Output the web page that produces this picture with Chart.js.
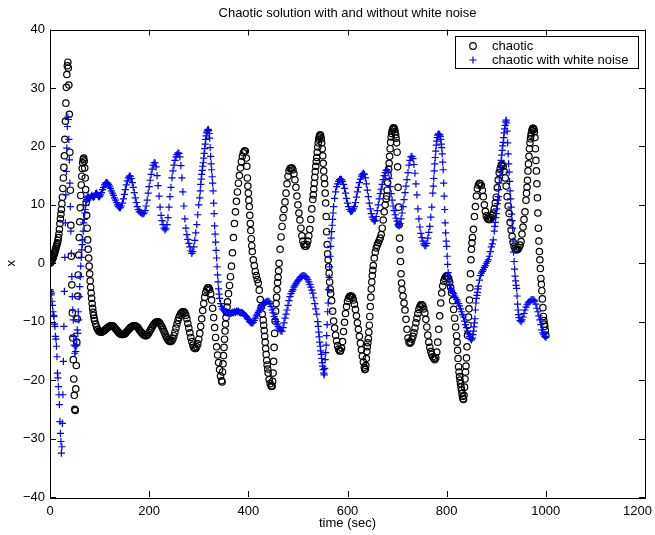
<!DOCTYPE html>
<html>
<head>
<meta charset="utf-8">
<script src="https://cdn.jsdelivr.net/npm/chart.js@4.4.1/dist/chart.umd.min.js"></script>
<style>
  html, body { margin: 0; padding: 0; background: #fff; }
  #chart { display: block; }
</style>
</head>
<body>
<canvas id="chart" width="655" height="535"></canvas>
<script>
// Chart text
var chartTitle = "Chaotic solution with and without white noise";
var xLabel = "time (sec)";
var yLabel = "x";
var seriesNames = ["chaotic", "chaotic with white noise"];

// Axis ranges / ticks
var xTicks = [0, 200, 400, 600, 800, 1000, 1200];
var yTicks = [-40, -30, -20, -10, 0, 10, 20, 30, 40];

// chaotic solution, [time, x]
var chaotic = [
[0,0],[1,0.1],[2,0.2],[3,0.3],[4,0.5],[5,0.7],[6,0.9],[7,1.1],[8,1.4],[9,1.7],[10,2],[11,2.3],[12,2.6],[13,2.9],[14,3.2],[15,3.5],[16,3.9],[17,4.4],[18,5],[19,5.8],
[20,6.8],[21,7.6],[22,8.4],[23,9.2],[24,10.2],[25,11.3],[26,12.8],[27,14.6],[28,16.4],[29,18.4],[30,21.2],[31,24.3],[32,27.4],[33,30.1],[34,32.3],[35,33.8],[36,34.4],[37,33.4],[38,30.5],[39,25.5],
[40,19],[41,12.5],[42,6.5],[43,1.2],[44,-3.7],[45,-8.5],[46,-12.8],[47,-16.5],[48,-19.8],[49,-22.6],[50,-25],[51,-25.2],[52,-21.5],[53,-17.5],[54,-13.5],[55,-9.5],[56,-5.6],[57,-2],[58,1.4],[59,4.4],
[60,7.1],[61,9.5],[62,11.6],[63,13.4],[64,14.9],[65,16.2],[66,17.2],[67,17.8],[68,18],[69,17.5],[70,16.3],[71,14.6],[72,12.6],[73,10.4],[74,8.2],[75,6],[76,4],[77,2.4],[78,0.9],[79,-0.5],
[80,-1.8],[81,-3],[82,-4.1],[83,-5.1],[84,-6],[85,-6.9],[86,-7.7],[87,-8.4],[88,-8.9],[89,-9.4],[90,-9.8],[92,-10.4],[94,-10.9],[96,-11.3],[98,-11.6],
[100,-11.7],[102,-11.8],[104,-11.8],[106,-11.7],[108,-11.6],[110,-11.5],[112,-11.3],[114,-11.2],[116,-11],[118,-10.9],[120,-10.8],[122,-10.7],[124,-10.7],[126,-10.7],[128,-10.8],
[130,-11],[132,-11.2],[134,-11.4],[136,-11.6],[138,-11.8],[140,-12],[142,-12.1],[144,-12.2],[146,-12.2],[148,-12.2],[150,-12.1],[152,-12],[154,-11.8],[156,-11.6],[158,-11.4],
[160,-11.2],[162,-11],[164,-10.9],[166,-10.8],[168,-10.7],[170,-10.7],[172,-10.7],[174,-10.8],[176,-10.9],[178,-11.1],[180,-11.4],[182,-11.6],[184,-11.8],[186,-12],[188,-12.2],
[190,-12.3],[192,-12.4],[194,-12.4],[196,-12.3],[198,-12.1],[200,-11.8],[202,-11.5],[204,-11.2],[206,-10.9],[208,-10.6],[210,-10.4],[212,-10.2],[214,-10.1],[216,-10],[218,-10],
[220,-10.1],[222,-10.3],[224,-10.6],[226,-10.9],[228,-11.3],[230,-11.7],[232,-12.1],[234,-12.5],[236,-12.8],[238,-13.1],[240,-13.3],[242,-13.4],[244,-13.4],[246,-13.2],[248,-12.9],
[250,-12.4],[252,-11.8],[254,-11.1],[256,-10.4],[258,-9.8],[260,-9.3],[262,-8.9],[264,-8.6],[266,-8.4],[268,-8.3],[270,-8.3],[272,-8.5],[274,-8.9],[276,-9.5],[278,-10.3],
[280,-11.1],[282,-11.9],[284,-12.7],[286,-13.4],[288,-14],[290,-14.4],[292,-14.6],[294,-14.6],[296,-14.3],[298,-13.8],[300,-13],[302,-12],[304,-10.8],[306,-9.5],[308,-8.1],
[310,-6.9],[312,-5.8],[314,-5],[316,-4.5],[318,-4.2],[320,-4.2],[322,-4.5],[324,-5.2],[326,-6.3],[328,-7.7],[330,-9.3],[332,-11],[334,-12.7],[336,-14.3],[338,-15.7],
[340,-17],[342,-18.2],[344,-19.3],[346,-20.1],[347,-20.3],[348,-18.6],[349,-17.2],[350,-15.8],[351,-14.4],[352,-13],[353,-11.6],[354,-10.4],[355,-9.3],[356,-8.4],[357,-7.5],[358,-6.6],
[360,-5.2],[362,-3.8],[364,-2.3],[366,-0.5],[368,1.8],[370,4.4],[372,6.8],[374,8.8],[376,10.6],[378,12.2],[380,13.7],[382,15],[384,16.3],[386,17.4],[388,18.3],
[390,18.9],[392,19.2],[394,19.2],[396,18],[397,16.6],[398,14.6],[399,13.2],[400,12],[401,10.8],[402,9.7],[403,8.2],[404,6.8],[405,5.6],[406,4.2],[407,3],[408,2],
[410,0.6],[412,-0.4],[414,-1.4],[416,-2.1],[418,-2.8],[420,-3.4],[422,-4.6],[424,-6.2],[426,-7.5],[428,-8.7],[430,-9.7],[431,-10.6],[432,-11.5],[433,-12.5],[434,-13.5],
[435,-14.6],[436,-15.6],[437,-16.6],[438,-17.4],[439,-18.1],[440,-18.8],[442,-19.9],[444,-20.6],[446,-21],[447,-21.1],[448,-21],[449,-20.2],[450,-18.8],[451,-16.8],[452,-14.4],
[453,-12],[454,-9.9],[455,-8.2],[456,-6.9],[457,-5.8],[458,-4.5],[459,-3.3],[460,-2.4],[461,-1.3],[462,0],[464,2.4],[466,4.5],[468,6.3],[470,7.8],[472,9.2],
[474,10.5],[476,12],[478,13.6],[480,14.9],[482,15.8],[484,16.2],[486,16.3],[488,16.3],[490,16],[492,15.3],[494,14.3],[496,13],[498,11.5],[500,10],[502,8.6],
[504,7.4],[506,6],[508,4.7],[510,3.8],[512,3.2],[514,2.9],[516,2.9],[518,3.2],[520,3.8],[522,4.7],[524,5.8],[526,7.5],[528,9.3],[530,10.9],[531,11.7],
[532,12.7],[533,13.7],[534,14.7],[535,15.7],[536,16.6],[537,17.4],[538,18.1],[539,19],[540,19.9],[541,20.6],[542,21.2],[543,21.6],[544,21.9],[545,22],[546,21.8],
[547,21.3],[548,20.6],[549,19.6],[550,18.4],[551,17.1],[552,15.8],[553,14.6],[554,13.6],[555,12],[556,10.3],[557,8],[558,5.4],[559,3.2],[560,1.6],[561,0.6],
[562,-0.6],[563,-1.7],[564,-3.2],[565,-4.4],[566,-5.2],[568,-6.4],[570,-8.2],[572,-9.9],[574,-11.1],[576,-12.3],[578,-13.3],[580,-14.1],[582,-14.7],[584,-15],[586,-15],
[588,-14.5],[590,-13.4],[592,-11.7],[594,-10.1],[596,-8.6],[598,-7.4],[600,-6.5],[602,-6],[604,-5.7],[606,-5.6],[608,-5.6],[610,-5.8],[612,-6.3],[614,-7],[616,-7.9],
[618,-9],[620,-10.2],[622,-11.3],[624,-12.5],[626,-13.7],[628,-14.8],[630,-15.9],[632,-16.9],[634,-17.8],[635,-18.2],[636,-18.1],[637,-17.5],[638,-16.3],[639,-15.1],[640,-14.3],
[641,-13.6],[642,-12.9],[643,-11.8],[644,-10.6],[645,-9.1],[646,-7.4],[647,-5.8],[648,-4.4],[649,-3.2],[650,-2.1],[651,-1.2],[652,-0.4],[654,0.9],[656,1.9],[658,2.6],
[660,3.1],[662,3.5],[664,3.9],[666,4.3],[668,4.9],[670,6],[672,7.4],[674,8.8],[676,10],[678,11],[679,11.5],[680,12.5],[681,13.8],[682,15],[683,16.1],
[684,17.1],[685,18.3],[686,19.6],[687,20.7],[688,21.6],[689,22.2],[690,22.6],[691,22.9],[692,23.1],[693,23.2],[694,23.1],[695,22.9],[696,22.5],[697,22],[698,21.4],
[699,20.6],[700,19],[701,16.5],[702,13],[703,9.6],[704,6.6],[705,4.3],[706,2.3],[707,0.3],[708,-1.8],[709,-3.4],[710,-4.5],[712,-5.6],[714,-6.8],[716,-8],
[718,-9.6],[720,-11.3],[722,-12.8],[724,-13.5],[726,-13.7],[728,-13.5],[730,-13],[732,-12.5],[734,-11.9],[736,-11.1],[738,-10.2],[740,-9.4],[742,-8.6],[744,-7.9],[746,-7.4],
[748,-7.1],[750,-7.1],[752,-7.3],[754,-7.8],[756,-8.5],[758,-9.6],[760,-10.9],[762,-12.3],[764,-13.5],[766,-14.4],[768,-15.1],[770,-15.6],[772,-16],[774,-16.3],[776,-16.5],
[778,-16.2],[780,-15.2],[782,-13.5],[784,-11.3],[786,-9],[788,-6.8],[790,-5.1],[792,-3.9],[794,-3.1],[796,-2.6],[798,-2.3],[800,-2.2],[802,-2.3],[804,-2.6],[806,-3.2],
[808,-4.1],[810,-5.1],[812,-6.4],[814,-7.9],[816,-9.4],[818,-10.9],[820,-12.4],[821,-13.5],[822,-14.9],[823,-16.3],[824,-17.7],[825,-18.6],[826,-19.4],[827,-20],[828,-20.6],
[829,-21.2],[830,-21.7],[831,-22.3],[832,-22.8],[833,-23.2],[834,-23.3],[835,-22.6],[836,-21.2],[837,-19.8],[838,-18.6],[839,-17.6],[840,-16.2],[841,-14.3],[842,-12.3],[843,-10.6],
[844,-9.2],[845,-7.8],[846,-6.3],[847,-4.2],[848,-1.8],[849,0.6],[850,2.4],[851,3.5],[852,4.4],[854,5.8],[856,8],[858,9.7],[860,11.5],[862,12.8],[864,13.4],
[866,13.7],[868,13.6],[870,13.3],[872,12.5],[874,11.4],[876,10],[878,8.9],[880,8.1],[882,7.7],[884,7.5],[886,7.5],[888,7.5],[890,7.8],[892,8.2],[894,8.6],
[896,9.3],[898,10.3],[900,11.3],[902,12.9],[904,14.3],[906,15.5],[908,16.2],[910,16.8],[912,16.9],[914,16.6],[916,15.7],[918,14.6],[920,13.2],[922,11.4],[924,9.8],
[926,8.5],[928,7],[930,5.7],[932,4.6],[934,3.6],[936,2.9],[938,2.5],[940,2.3],[942,2.3],[944,2.4],[946,2.7],[948,3.1],[950,3.7],[952,5],[954,6.2],
[956,7.5],[958,8.8],[960,10.8],[961,12],[962,13],[963,14.2],[964,15.8],[965,17],[966,18.3],[967,19.6],[968,20.6],[969,21.3],[970,21.9],[971,22.3],[972,22.7],
[973,23],[974,23.1],[975,23.1],[976,22.9],[977,22.5],[978,21.5],[979,19.6],[980,17.6],[981,15.8],[982,13.6],[983,11.2],[984,8.6],[985,6],[986,3.8],[987,2],
[988,0.6],[989,-0.9],[990,-2.6],[991,-3.6],[992,-4.7],[993,-6.1],[994,-7.6],[995,-9.1],[996,-9.8],[997,-10.4],[998,-10.8],[999,-11.5],[1000,-12.3]
];

// chaotic solution with white noise, [time, x]
var noisy = [
[0,-4.5],[1,-4.8],[2,-5.4],[3,-5.1],[4,-6.5],[5,-7.2],[6,-8.3],[7,-8.9],[8,-9.1],[9,-10.4],[10,-10.8],[11,-12.5],[12,-13],[13,-14.2],[14,-16],[15,-18.8],[16,-19.6],[17,-21.1],[18,-22.5],[19,-24.2],
[20,-27.1],[21,-29.1],[22,-30.5],[23,-32.5],[24,-31.4],[25,-27.4],[26,-22.5],[27,-16.8],[28,-10.8],[29,-4.8],[30,1],[31,6.9],[32,11.7],[33,15.7],[34,19.7],[35,23.4],[36,25],[37,24.6],[38,21.2],[39,17.7],
[40,13.7],[41,9.7],[42,5.5],[43,1.7],[44,-2.3],[45,-5.7],[46,-8],[47,-9.7],[48,-12.5],[49,-14],[50,-15.4],[51,-14.2],[52,-15.1],[53,-13.1],[54,-14],[55,-11.4],[56,-12],[57,-8.3],[58,-9.7],[59,-5.7],
[60,-4],[61,-2.3],[62,-0.5],[63,1],[64,2.3],[65,3.2],[66,4],[67,5.5],[68,6.9],[69,7.5],[70,8.6],[71,9.2],[72,9.9],[73,10.6],[74,10.9],[75,11.3],[76,11],[77,11.5],[78,11.2],
[80,11.1],[82,11.3],[84,11.6],[86,11.4],[88,11.3],[90,11.5],[92,11.9],[94,12],[96,11.7],[98,11.4],[100,11.4],[102,11.7],[104,12.1],[106,12.6],[108,13],
[110,13.4],[112,13.7],[114,13.8],[116,13.7],[118,13.5],[120,13.2],[122,12.8],[124,12.4],[126,12],[128,11.6],[130,11.2],[132,10.8],[134,10.4],[136,10],[138,9.7],
[140,9.5],[142,9.5],[144,9.8],[146,10.3],[148,11],[150,11.8],[152,12.6],[154,13.4],[156,14.1],[158,14.6],[160,14.9],[162,14.9],[164,14.5],[166,13.8],[168,13],
[170,12.1],[172,11.2],[174,10.4],[176,9.7],[178,9.2],[180,8.9],[182,8.7],[184,8.6],[186,8.5],[188,8.5],[190,8.6],[192,9],[194,9.8],[196,10.8],[198,12],
[200,13.1],[202,14.2],[204,15.2],[206,16.1],[208,16.8],[210,17.2],[212,17.2],[214,16.5],[216,15],[218,13.3],[220,11.5],[222,9.6],[224,8.2],[226,7.3],[228,6.6],
[230,6],[232,5.7],[234,5.9],[236,6.6],[238,7.8],[240,9.6],[242,11.4],[244,13],[246,14.6],[248,15.8],[250,16.8],[252,17.6],[254,18.2],[256,18.6],[258,18.9],
[260,18.8],[262,18.2],[264,16.7],[266,14.6],[268,12.2],[270,9.8],[272,7.6],[274,6],[276,4.9],[278,4.1],[280,3.4],[282,2.8],[284,2.1],[286,1.7],[288,2],
[290,2.8],[292,3.9],[294,5.2],[296,6.6],[298,8.3],[300,10],[302,11.2],[303,12.4],[304,13.5],[305,14.4],[306,15.2],[307,15.9],[308,16.6],[309,17.2],[310,18],
[311,18.8],[312,19.6],[313,20.4],[314,21.2],[315,21.8],[316,22.3],[317,22.6],[318,22.8],[319,22.9],[320,22.7],[321,22.2],[322,21.4],[323,19.8],[324,18.3],[325,17],
[326,16],[327,14.8],[328,13.7],[329,12.4],[330,10.3],[331,8.5],[332,6.4],[333,5],[334,3.6],[335,2.2],[336,0.9],[337,-0.6],[338,-2],[339,-3.2],[340,-4.4],
[341,-5.3],[342,-6],[344,-6.9],[346,-7.4],[348,-7.8],[350,-8],[352,-8.2],[354,-8.3],[356,-8.4],[358,-8.5],[360,-8.5],[362,-8.4],[364,-8.6],[366,-8.5],[368,-8.4],
[370,-8.5],[372,-8.3],[374,-8.4],[376,-8.2],[378,-8.3],[380,-8.2],[382,-8.4],[384,-8.5],[386,-8.4],[388,-8.5],[390,-8.6],[392,-8.8],[394,-9],[396,-9.1],[398,-9.4],
[400,-9.6],[402,-9.9],[404,-10.1],[406,-10.2],[408,-10.2],[410,-10.1],[412,-9.8],[414,-9.4],[416,-9],[418,-8.7],[420,-8.4],[422,-8.1],[424,-7.8],[426,-7.5],[428,-7.2],
[430,-7],[432,-6.8],[434,-6.7],[436,-6.6],[438,-6.5],[440,-6.5],[442,-6.6],[444,-6.9],[446,-7.4],[448,-8],[450,-8.5],[452,-9.1],[454,-9.6],[456,-10],[458,-10.4],
[460,-10.8],[462,-11.1],[464,-11.4],[466,-11.6],[468,-11.6],[470,-11],[472,-10.2],[474,-9.4],[476,-8.7],[478,-8],[480,-7.2],[482,-6.4],[484,-5.7],[486,-5.2],[488,-4.8],
[490,-4.5],[492,-4.1],[494,-3.8],[496,-3.5],[498,-3.2],[500,-3],[502,-2.8],[504,-2.5],[506,-2.3],[508,-2.2],[510,-2.1],[512,-2.1],[514,-2.2],[516,-2.3],[518,-2.5],
[520,-2.8],[522,-3.2],[524,-3.6],[526,-4.1],[528,-4.6],[530,-5.1],[532,-5.9],[534,-6.9],[536,-7.8],[538,-8.7],[540,-10],[541,-10.8],[542,-11.8],[543,-12.6],[544,-13.5],
[545,-14.2],[546,-15],[547,-15.6],[548,-16.3],[549,-17],[550,-17.6],[551,-18.2],[552,-18.8],[553,-19.1],[554,-18],[555,-16.5],[556,-15.3],[557,-14],[558,-12.4],[559,-10.5],
[560,-8.3],[561,-6.8],[562,-4.5],[563,-2.4],[564,-0.6],[565,1.2],[566,2.9],[567,4.3],[568,5.4],[569,6.5],[570,7.5],[571,8.6],[572,9.7],[574,11.1],[576,12.2],
[578,13.1],[580,13.6],[582,14],[584,14.3],[586,14.4],[588,14.3],[590,14],[592,13.5],[594,12.8],[596,12],[598,11.1],[600,10.3],[602,9.7],[604,9.2],[606,8.9],
[608,8.9],[610,9],[612,9.3],[614,9.7],[616,10.4],[618,11.3],[620,12.2],[622,13],[624,13.8],[626,14.4],[628,14.9],[630,15.2],[632,15.4],[634,15.2],[636,14.6],
[638,13.6],[640,12.5],[642,11.4],[644,10.3],[646,9.3],[648,8.5],[650,7.9],[652,7.5],[654,7.2],[656,7.3],[658,8],[660,9],[662,10],[664,11],[666,11.9],
[668,12.7],[670,13.5],[672,14.3],[674,15],[676,15.5],[678,15.9],[680,16],[682,15.6],[684,14.5],[686,13.1],[688,11.9],[690,10.8],[692,9.8],[694,9],[696,8.3],
[698,7.7],[700,7.2],[702,6.6],[704,6.4],[706,6.8],[708,7.6],[710,8.6],[712,9.7],[714,10.9],[716,12.1],[718,13.2],[720,14.3],[722,15.5],[724,16.8],[726,17.6],
[728,18.2],[730,18.3],[732,17.9],[734,16.9],[736,15.4],[738,13.6],[740,11.7],[742,9.3],[744,7.6],[746,6.2],[748,5.1],[750,4.4],[752,3.8],[754,3.3],[756,3],
[758,3],[760,3.4],[762,4.3],[764,5.3],[766,6.3],[768,7.9],[770,9.6],[772,12],[773,13.2],[774,14.5],[775,15.8],[776,17],[777,18.1],[778,19.2],[779,20.2],
[780,20.9],[781,21.5],[782,21.9],[783,22.1],[784,22.1],[785,22],[786,22],[787,21.7],[788,21.2],[789,20.4],[790,19.8],[791,18.7],[792,17.3],[793,16],[794,13.7],
[795,11.5],[796,9.2],[797,6.9],[798,5.2],[799,3.8],[800,2.9],[801,1.2],[802,-0.2],[803,-1.6],[804,-2.3],[805,-3.2],[806,-3.8],[808,-4.3],[810,-4.6],[812,-5],
[814,-5.2],[816,-5.6],[818,-5.9],[820,-6.2],[822,-6.5],[824,-6.9],[826,-7.3],[828,-7.8],[830,-8.3],[832,-8.8],[834,-9.2],[836,-9.9],[838,-10.5],[840,-11],[842,-11.6],
[844,-12.1],[846,-12.5],[848,-12.9],[850,-13.1],[852,-12.8],[853,-12.2],[854,-11.6],[855,-10.9],[856,-10.2],[857,-9.5],[858,-8],[859,-6.8],[860,-6],[861,-5.5],[862,-5],
[863,-4.4],[864,-3.9],[866,-2.9],[868,-2.1],[870,-1.7],[872,-1.4],[874,-1.1],[876,-0.7],[878,-0.4],[880,0],[882,0.3],[884,0.6],[886,1.2],[888,2],[890,2.8],
[892,3.3],[894,4],[896,5.5],[897,6.3],[898,7],[899,7.8],[900,8.5],[901,9.3],[902,10.2],[903,10.8],[904,11.4],[905,12.6],[906,13.7],[907,14.6],[908,15.6],
[909,16.7],[910,17.6],[911,18.5],[912,19.3],[913,20.1],[914,20.7],[915,21.5],[916,22.3],[917,23],[918,23.6],[919,24.2],[920,24.5],[921,24],[922,22.6],[923,20.6],
[924,18.7],[925,17],[926,15.6],[927,14],[928,12.4],[929,11],[930,9.6],[931,8.4],[932,7.3],[933,6],[934,3.8],[935,1.9],[936,0.3],[937,-1],[938,-2.2],
[939,-3],[940,-3.8],[941,-4.3],[942,-5.6],[943,-7],[944,-8],[945,-8.8],[946,-9.3],[948,-9.8],[950,-10],[952,-9.7],[954,-9.2],[956,-8.6],[958,-8],[960,-7.5],
[962,-7.1],[964,-6.8],[966,-6.6],[968,-6.5],[970,-6.3],[972,-6.2],[974,-6.2],[976,-6.3],[978,-6.5],[980,-7],[982,-7.7],[984,-8.3],[986,-9],[988,-9.7],[990,-10.5],
[992,-11.4],[994,-11.9],[996,-12.2],[998,-12.5],[1000,-12.7]
];

Chart.defaults.font.family = '"Liberation Sans", Arial, Helvetica, sans-serif';
Chart.defaults.font.size = 13;
Chart.defaults.color = '#000';

function toPoints(list) {
    return list.map(function (p) { return { x: p[0], y: p[1] }; });
}

function minusSign(v) {
    return v < 0 ? '\u2212' + Math.abs(v) : String(v);
}

// box round the axes, inward tick marks, x tick labels, title and legend (matlab look)
var axesBox = {
    id: 'axesBox',
    afterDatasetsDraw: function (chart) {
        var ctx = chart.ctx;
        var a = chart.chartArea;
        var xs = chart.scales.x;
        var ys = chart.scales.y;
        var tick = 6;

        ctx.save();
        ctx.strokeStyle = '#000';
        ctx.lineWidth = 1;
        ctx.strokeRect(Math.round(a.left) + 0.5, Math.round(a.top) + 0.5,
            Math.round(a.right - a.left), Math.round(a.bottom - a.top));

        ctx.beginPath();
        xTicks.forEach(function (t) {
            var px = Math.round(xs.getPixelForValue(t)) + 0.5;
            ctx.moveTo(px, a.bottom); ctx.lineTo(px, a.bottom - tick);
            ctx.moveTo(px, a.top); ctx.lineTo(px, a.top + tick);
        });
        yTicks.forEach(function (t) {
            var py = Math.round(ys.getPixelForValue(t)) + 0.5;
            ctx.moveTo(a.left, py); ctx.lineTo(a.left + tick, py);
            ctx.moveTo(a.right, py); ctx.lineTo(a.right - tick, py);
        });
        ctx.stroke();

        ctx.fillStyle = '#000';
        ctx.font = '13px "Liberation Sans", Arial, sans-serif';
        ctx.textAlign = 'center';
        ctx.textBaseline = 'middle';

        // x tick labels, last one kept inside the canvas
        xTicks.forEach(function (t) {
            var txt = minusSign(t);
            var w = ctx.measureText(txt).width;
            var px = Math.min(xs.getPixelForValue(t), chart.width - 3 - w / 2);
            ctx.fillText(txt, px, a.bottom + 14);
        });

        // title, centred over the axes
        ctx.fillText(chartTitle, (a.left + a.right) / 2, 13.5);

        // legend box in the upper right corner
        var bw = 183, bh = 32;
        var bx = Math.round(a.right) - 7 - bw;
        var by = Math.round(a.top) + 6;
        ctx.fillStyle = '#fff';
        ctx.fillRect(bx, by, bw, bh);
        ctx.strokeRect(bx + 0.5, by + 0.5, bw, bh);

        var mx = bx + 18;
        var row1 = by + 10;
        var row2 = by + 24;
        ctx.strokeStyle = '#000';
        ctx.lineWidth = 1.2;
        ctx.beginPath();
        ctx.arc(mx, row1, 3.3, 0, Math.PI * 2);
        ctx.stroke();

        ctx.strokeStyle = '#0000ff';
        ctx.beginPath();
        ctx.moveTo(mx - 3.6, row2); ctx.lineTo(mx + 3.6, row2);
        ctx.moveTo(mx, row2 - 3.6); ctx.lineTo(mx, row2 + 3.6);
        ctx.stroke();

        ctx.fillStyle = '#000';
        ctx.textAlign = 'left';
        ctx.fillText(seriesNames[0], bx + 37, row1);
        ctx.fillText(seriesNames[1], bx + 37, row2);
        ctx.restore();
    }
};

var ctx = document.getElementById('chart').getContext('2d');
var chart = new Chart(ctx, {
    type: 'scatter',
    data: {
        datasets: [
            {
                label: seriesNames[0],
                data: toPoints(chaotic),
                pointStyle: 'circle',
                pointRadius: 3.2,
                borderColor: '#000',
                backgroundColor: 'rgba(0,0,0,0)',
                borderWidth: 1.2,
                showLine: false,
                order: 1
            },
            {
                label: seriesNames[1],
                data: toPoints(noisy),
                pointStyle: 'cross',
                pointRadius: 3.6,
                borderColor: '#0000ff',
                backgroundColor: '#0000ff',
                borderWidth: 1.2,
                showLine: false,
                order: 0
            }
        ]
    },
    options: {
        responsive: false,
        animation: false,
        devicePixelRatio: 1,
        layout: { padding: { top: 29.5, right: 10, left: 0, bottom: 0 } },
        plugins: {
            legend: { display: false },
            title: { display: false },
            tooltip: { enabled: false }
        },
        scales: {
            x: {
                type: 'linear',
                min: 0,
                max: 1200,
                grid: { display: false, drawTicks: false },
                border: { display: false },
                afterBuildTicks: function (scale) {
                    scale.ticks = xTicks.map(function (v) { return { value: v }; });
                },
                afterFit: function (scale) {
                    scale.height = 38;
                    scale.paddingLeft = 0;
                    scale.paddingRight = 0;
                },
                ticks: { display: false },
                title: { display: true, text: xLabel, padding: { top: 0, bottom: 4 } }
            },
            y: {
                type: 'linear',
                min: -40,
                max: 40,
                grid: { display: false, drawTicks: false },
                border: { display: false },
                afterBuildTicks: function (scale) {
                    scale.ticks = yTicks.map(function (v) { return { value: v }; });
                },
                afterFit: function (scale) { scale.width = 50; },
                ticks: { padding: 5, autoSkip: false, callback: minusSign },
                title: { display: true, text: yLabel, padding: { top: 4, bottom: 0 } }
            }
        }
    },
    plugins: [axesBox]
});
</script>
</body>
</html>
